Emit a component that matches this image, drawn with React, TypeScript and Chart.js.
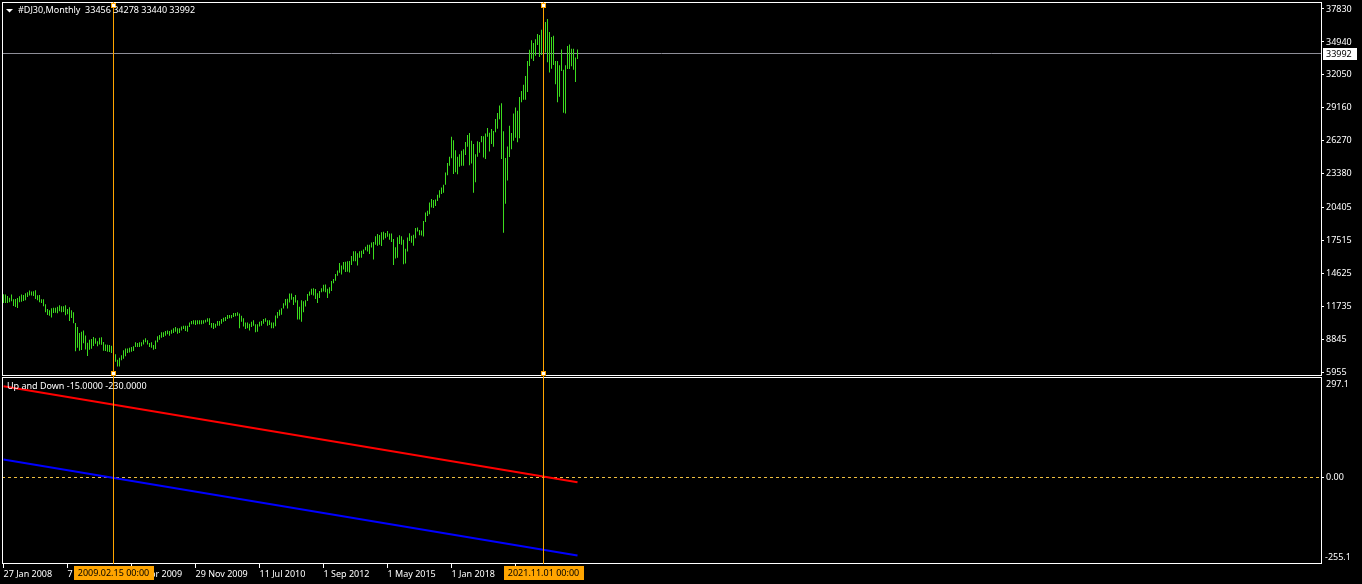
import { useEffect, useRef } from "react"
import { Chart, registerables } from "chart.js"

Chart.register(...registerables)

// #DJ30 bars: weekly from 27 Jan 2008, monthly from Sep 2010 on
const barHighs = [
  12800, 12780, 12660, 12510, 12780, 12370, 12390, 12480, 12630, 12780, 12750, 12890,
  12980, 13130, 13040, 13070, 13160, 12720, 12750, 12370, 12370, 11930, 11520, 11400,
  11570, 11630, 11630, 11720, 11840, 11750, 11750, 11840, 11520, 11660, 11400, 11220,
  10290, 9940, 9410, 9530, 9640, 9200, 8560, 8820, 8880, 9060, 8940, 8680,
  9000, 9030, 8620, 8410, 8380, 8360, 8300, 7850, 7540, 7070, 7240, 7450,
  7890, 8060, 8060, 8120, 8180, 8240, 8590, 8530, 8590, 8590, 8820, 8940,
  8770, 8530, 8590, 8350, 8760, 9120, 9230, 9470, 9470, 9580, 9640, 9580,
  9700, 9820, 9940, 9820, 9820, 9990, 10050, 10050, 10050, 10340, 10460, 10520,
  10520, 10520, 10520, 10520, 10520, 10580, 10700, 10700, 10290, 10290, 10230, 10460,
  10460, 10640, 10750, 10810, 10990, 10990, 10990, 11160, 11160, 11220, 11110, 10930,
  10700, 10340, 10340, 10230, 10400, 10520, 10170, 10170, 10400, 10460, 10640, 10700,
  10520, 10520, 10340, 10340, 10950, 11250, 11450, 11590, 12020, 12390, 12420, 12880,
  12880, 12570, 12750, 12280, 11720, 12280, 12190, 12290, 12840, 13060, 13290, 13340,
  13280, 12900, 13100, 13330, 13650, 13660, 13290, 13430, 13970, 14150, 14590, 14890,
  15540, 15340, 15630, 15660, 15710, 15720, 16170, 16590, 16570, 16400, 16590, 16630,
  16740, 16980, 17150, 17150, 17350, 17400, 17900, 18100, 18000, 18240, 18290, 18180,
  18350, 18140, 18140, 17660, 16930, 17800, 17980, 17900, 17590, 16800, 17790, 18170,
  17930, 18020, 18620, 18670, 18450, 18400, 19230, 19990, 20130, 20850, 21170, 21070,
  21110, 21540, 21930, 22180, 22420, 23490, 24330, 24880, 26620, 26310, 25450, 24860,
  25090, 25400, 25530, 26170, 26770, 26950, 26280, 25980, 25080, 26240, 26160, 26700,
  26670, 26910, 27400, 26970, 27310, 27120, 28180, 28700, 29370, 29570, 27100, 24760,
  25760, 27580, 26960, 28660, 29200, 28900, 30120, 30640, 31190, 31960, 33260, 34260,
  35090, 34850, 35170, 35630, 35560, 36000, 36570, 36680, 36950, 35820, 35370, 35490,
  33270, 33270, 32890, 34280, 32500, 32890, 34590, 34710, 34340, 34340, 33570, 34278,
]

const barLows = [
  12040, 12040, 12040, 12100, 12190, 11780, 11690, 11600, 12100, 12160, 12220, 12280,
  12570, 12690, 12690, 12660, 12390, 12280, 12100, 12040, 11750, 11220, 10990, 10930,
  10780, 11170, 11190, 11140, 11310, 11220, 11250, 10960, 11050, 10460, 10730, 10260,
  7800, 8120, 7860, 7920, 8500, 7970, 7390, 7950, 8030, 8270, 8470, 8240,
  8410, 8380, 7860, 7830, 7770, 7740, 7650, 7250, 6890, 6470, 6480, 7010,
  7150, 7360, 7650, 7710, 7770, 7830, 8180, 8180, 8180, 8240, 8410, 8590,
  8410, 8180, 8120, 7950, 8000, 8590, 8820, 9000, 9060, 9170, 9290, 9170,
  9350, 9410, 9530, 9350, 9410, 9640, 9760, 9580, 9530, 9940, 10170, 10170,
  10110, 10170, 10170, 10170, 10230, 10340, 10400, 10110, 9880, 9760, 9880, 10050,
  10050, 10230, 10400, 10460, 10640, 10700, 10700, 10810, 10870, 10930, 9820, 10400,
  9990, 9760, 9820, 9640, 9940, 10050, 9470, 9530, 9990, 10050, 10230, 10400,
  10050, 10110, 9820, 9820, 10010, 10710, 10930, 11010, 11560, 11820, 11560, 12090,
  12330, 11860, 12090, 10600, 10600, 10400, 11230, 11740, 12220, 12670, 12760, 12710,
  12390, 12040, 12490, 12980, 13060, 12990, 12470, 12880, 13100, 13780, 14000, 14430,
  14690, 14550, 14970, 14760, 14780, 14720, 15380, 15700, 15700, 15340, 16020, 16020,
  16330, 16670, 16560, 16330, 16900, 15860, 17140, 17070, 17140, 17040, 17590, 17710,
  17860, 17600, 17400, 15370, 15940, 16010, 17210, 17140, 15450, 15500, 16550, 17480,
  17330, 17060, 17710, 18310, 17990, 17960, 17880, 19150, 19680, 19830, 20410, 20380,
  20550, 20990, 21280, 21600, 21710, 22420, 23240, 24070, 24740, 23360, 23510, 23340,
  24000, 24080, 24080, 25020, 25740, 24120, 24270, 21710, 22640, 24880, 25210, 26140,
  24810, 24680, 26630, 25340, 25980, 25740, 27020, 27330, 28170, 24680, 18210, 20740,
  22790, 24840, 25520, 26280, 26540, 26140, 26500, 29650, 29860, 29860, 30550, 32840,
  33470, 33270, 33740, 34670, 33610, 33790, 34010, 34010, 33150, 32270, 32580, 32910,
  31230, 29650, 30140, 32400, 28720, 28660, 32570, 32570, 32810, 32500, 31430, 33440,
]

const lastOpen = 33456
const lastClose = 33992

const priceTicks = [5955, 8845, 11735, 14625, 17515, 20405, 23380, 26270, 29160, 32050, 34940, 37830]
const priceRange = [5638, 38444]

const timeTickBars = [1, 33, 65, 97, 129, 161, 193, 225, 257]
const timeLabels = [
  "27 Jan 2008", "7 Sep 2008", "19 Apr 2009", "29 Nov 2009", "11 Jul 2010",
  "1 Sep 2012", "1 May 2015", "1 Jan 2018", "1 Sep 2020",
]

// Up and Down indicator, value at first and last bar
const upLine = [267, -15]
const downLine = [52, -230]
const indicatorTicks = [297.1, 0, -255.1]

const crosshairBars = [56, 271]
const crosshairLabels = ["2009.02.15 00:00", "2021.11.01 00:00"]

const FONT_FAMILY = '"Noto Sans", sans-serif'
const TEXT_FONT = `9px ${FONT_FAMILY}`
const ORANGE = "#ffa500"

const mt4Overlay = {
  id: "mt4Overlay",
  beforeDraw(chart: any) {
    const { ctx, width, height } = chart
    ctx.save()
    ctx.fillStyle = "#000000"
    ctx.fillRect(0, 0, width, height)
    ctx.restore()
  },
  beforeDatasetsDraw(chart: any) {
    const { ctx, chartArea, scales } = chart
    const priceY = Math.round(scales.yPrice.getPixelForValue(lastClose)) + 0.5
    const zeroY = Math.round(scales.yInd.getPixelForValue(0)) + 0.5
    ctx.save()
    ctx.lineWidth = 1
    ctx.strokeStyle = "#8e8e98"
    ctx.beginPath()
    ctx.moveTo(chartArea.left, priceY)
    ctx.lineTo(chartArea.right, priceY)
    ctx.stroke()
    ctx.strokeStyle = "#f0c040"
    ctx.setLineDash([3, 3])
    ctx.beginPath()
    ctx.moveTo(chartArea.left, zeroY)
    ctx.lineTo(chartArea.right, zeroY)
    ctx.stroke()
    ctx.restore()
  },
  afterDraw(chart: any) {
    const { ctx, chartArea, scales } = chart
    const { left, right } = chartArea
    const yP = scales.yPrice
    const yI = scales.yInd
    const xs = scales.x
    ctx.save()

    // pane frames
    ctx.lineWidth = 1
    ctx.strokeStyle = "#ffffff"
    ctx.strokeRect(left + 0.5, yP.top + 0.5, right - left, yP.bottom - yP.top - 1)
    ctx.strokeRect(left + 0.5, yI.top + 1.5, right - left, yI.bottom - yI.top - 2)

    // crosshair lines
    ctx.strokeStyle = ORANGE
    const xs0 = crosshairBars.map((b) => Math.floor(xs.getPixelForValue(b)) + 0.5)
    xs0.forEach((cx) => {
      ctx.beginPath()
      ctx.moveTo(cx, yP.top)
      ctx.lineTo(cx, yI.bottom)
      ctx.stroke()
      ctx.fillStyle = ORANGE
      ctx.fillRect(cx - 2.5, yP.top + 1, 5, 5)
      ctx.fillRect(cx - 2.5, yP.bottom - 5, 5, 5)
      ctx.fillStyle = "#ffffff"
      ctx.fillRect(cx - 1.5, yP.top + 2, 3, 3)
      ctx.fillRect(cx - 1.5, yP.bottom - 4, 3, 3)
    })

    ctx.font = TEXT_FONT
    ctx.textBaseline = "middle"

    // crosshair date boxes
    xs0.forEach((cx, i) => {
      ctx.fillStyle = ORANGE
      ctx.fillRect(Math.round(cx - 40), yI.bottom + 2, 80, 14)
      ctx.fillStyle = "#000000"
      ctx.textAlign = "center"
      ctx.fillText(crosshairLabels[i], cx, yI.bottom + 9.5)
    })

    // symbol header
    ctx.textAlign = "left"
    ctx.fillStyle = "#ffffff"
    ctx.beginPath()
    ctx.moveTo(6, 9)
    ctx.lineTo(13, 9)
    ctx.lineTo(9.5, 12.5)
    ctx.closePath()
    ctx.fill()
    const last = barHighs.length - 1
    ctx.fillText(`#DJ30,Monthly  ${lastOpen} ${barHighs[last]} ${barLows[last]} ${lastClose}`, 18, 10.5)

    // indicator header
    ctx.fillText(
      `Up and Down ${upLine[1].toFixed(4)} ${downLine[1].toFixed(4)}`,
      7,
      yI.top + 10.5
    )

    // indicator range labels
    ctx.fillText(String(indicatorTicks[0]), right + 5, yI.top + 8.5)
    ctx.fillText(String(indicatorTicks[2]), right + 4, yI.bottom - 6.5)

    // last price label
    const py = Math.round(yP.getPixelForValue(lastClose))
    ctx.fillStyle = "#ffffff"
    ctx.fillRect(right + 2, py - 5, 34, 12)
    ctx.fillStyle = "#000000"
    ctx.fillText(String(lastClose), right + 5, py + 1)

    ctx.restore()
  },
}

export default function App() {
  const canvasRef = useRef<HTMLCanvasElement>(null)
  const chartRef = useRef<Chart | null>(null)

  useEffect(() => {
    if (!canvasRef.current) return
    if (chartRef.current) chartRef.current.destroy()
    const ctx = canvasRef.current.getContext("2d")
    if (!ctx) return

    const tickFont = { family: FONT_FAMILY, size: 9 }
    const lastBar = barHighs.length

    chartRef.current = new Chart(ctx, {
      type: "bar",
      data: {
        datasets: [
          {
            type: "bar",
            label: "#DJ30",
            data: barHighs.map((h, i) => ({ x: i + 1, y: [barLows[i], h] })) as any,
            backgroundColor: "#3cdc1e",
            borderWidth: 0,
            barThickness: 1,
            inflateAmount: 0,
            grouped: false,
            xAxisID: "x",
            yAxisID: "yPrice",
          } as any,
          {
            type: "line",
            label: "Up",
            data: [
              { x: 1, y: upLine[0] },
              { x: lastBar, y: upLine[1] },
            ],
            borderColor: "#ff0000",
            borderWidth: 2,
            pointRadius: 0,
            xAxisID: "x",
            yAxisID: "yInd",
          } as any,
          {
            type: "line",
            label: "Down",
            data: [
              { x: 1, y: downLine[0] },
              { x: lastBar, y: downLine[1] },
            ],
            borderColor: "#0000ff",
            borderWidth: 2,
            pointRadius: 0,
            xAxisID: "x",
            yAxisID: "yInd",
          } as any,
        ],
      },
      options: {
        responsive: true,
        maintainAspectRatio: false,
        animation: false,
        events: [],
        layout: { padding: { left: 2, top: 2, right: 0, bottom: 0 } },
        plugins: {
          legend: { display: false },
          tooltip: { enabled: false },
        },
        scales: {
          x: {
            type: "linear",
            position: "bottom",
            min: 0.25,
            max: 659.75,
            offset: false,
            afterBuildTicks: (s: any) => {
              s.ticks = timeTickBars.map((v) => ({ value: v }))
            },
            afterFit: (s: any) => {
              s.height = 20
              s.paddingLeft = 0
              s.paddingRight = 0
            },
            grid: { drawOnChartArea: false, drawTicks: true, tickLength: 4, color: "#ffffff", offset: false },
            border: { display: false },
            ticks: {
              color: "#ffffff",
              font: tickFont,
              align: "start",
              maxRotation: 0,
              autoSkip: false,
              padding: 1,
              callback: (_v: any, i: number) => timeLabels[i],
            },
          },
          yPrice: {
            type: "linear",
            position: "right",
            stack: "panes",
            stackWeight: 374,
            min: priceRange[0],
            max: priceRange[1],
            afterBuildTicks: (s: any) => {
              s.ticks = priceTicks.map((v) => ({ value: v }))
            },
            afterFit: (s: any) => {
              s.width = 41
              s.paddingTop = 0
              s.paddingBottom = 0
            },
            grid: { drawOnChartArea: false, drawTicks: true, tickLength: 3, color: "#ffffff" },
            border: { display: false },
            ticks: { color: "#ffffff", font: tickFont, padding: 2, callback: (v: any) => String(v) },
          },
          yInd: {
            type: "linear",
            position: "right",
            stack: "panes",
            stackWeight: 188,
            min: indicatorTicks[2],
            max: indicatorTicks[0],
            afterBuildTicks: (s: any) => {
              s.ticks = [{ value: indicatorTicks[1] }]
            },
            afterFit: (s: any) => {
              s.width = 41
              s.paddingTop = 0
              s.paddingBottom = 0
            },
            grid: { drawOnChartArea: false, drawTicks: true, tickLength: 3, color: "#ffffff" },
            border: { display: false },
            ticks: { color: "#ffffff", font: tickFont, padding: 2, callback: (v: any) => Number(v).toFixed(2) },
          },
        },
      } as any,
      plugins: [mt4Overlay],
    })

    return () => {
      if (chartRef.current) {
        chartRef.current.destroy()
        chartRef.current = null
      }
    }
  }, [])

  return (
    <div style={{ position: "fixed", left: 0, top: 0, width: 1362, height: 584, background: "#000" }}>
      <canvas ref={canvasRef} />
    </div>
  )
}
